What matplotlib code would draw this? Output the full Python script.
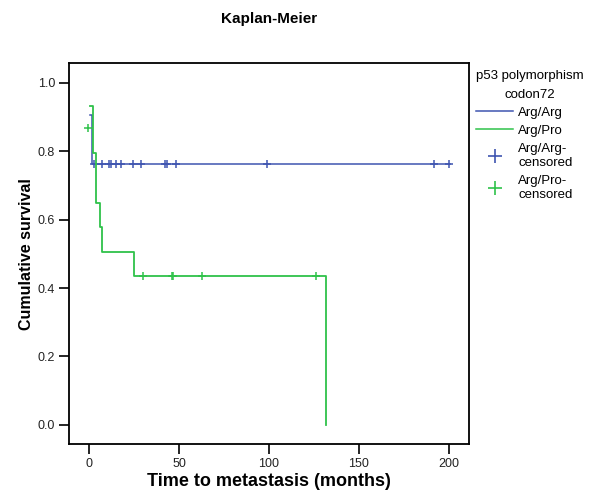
import matplotlib
matplotlib.use("Agg")
import matplotlib.pyplot as plt
from matplotlib.lines import Line2D

plt.rcParams['font.family'] = ['Liberation Sans', 'DejaVu Sans']

# Arg/Arg curve (time in months, cumulative survival)
argarg_t = [0.5, 1.9, 200.5]
argarg_s = [0.905, 0.762, 0.762]
argarg_cens_t = [2.9, 7.5, 11.3, 12.1, 15.0, 18.0, 24.3, 29.0, 42.2, 43.3, 48.3, 98.8, 191.7, 200.0]
argarg_cens_s = [0.762] * len(argarg_cens_t)

# Arg/Pro curve
argpro_t = [0.5, 2.2, 3.9, 6.1, 7.0, 25.1, 131.8]
argpro_s = [0.933, 0.795, 0.650, 0.578, 0.506, 0.434, 0.0]
argpro_cens_t = [-0.4, 29.8, 46.0, 46.8, 63.0, 126.0]
argpro_cens_s = [0.868, 0.434, 0.434, 0.434, 0.434, 0.434]

blue = '#3f55b0'
green = '#2fc24a'

fig = plt.figure(figsize=(5.95, 4.92), dpi=100)
ax = fig.add_axes([0.116, 0.0976, 0.672, 0.774])

ax.step(argarg_t, argarg_s, where='post', color=blue, lw=1.1, zorder=2)
ax.plot(argarg_cens_t, argarg_cens_s, ls='none', marker='+', ms=6, mew=1.1, color=blue, zorder=3)
ax.step(argpro_t, argpro_s, where='post', color=green, lw=1.3, zorder=4)
ax.plot(argpro_cens_t, argpro_cens_s, ls='none', marker='+', ms=6, mew=1.1, color=green, zorder=5)

ax.set_xlim(-11.1, 211.1)
ax.set_ylim(-0.056, 1.058)
ax.set_xticks([0, 50, 100, 150, 200])
ax.set_yticks([0.0, 0.2, 0.4, 0.6, 0.8, 1.0])
ax.set_yticklabels(['0.0', '0.2', '0.4', '0.6', '0.8', '1.0'])
ax.tick_params(direction='out', length=7, width=1.2, labelsize=9, pad=3, labelcolor='#222222')
for sp in ax.spines.values():
    sp.set_linewidth(1.3)

ax.set_xlabel('Time to metastasis (months)', fontsize=13, fontweight='bold', labelpad=2)
ax.set_ylabel('Cumulative survival', fontsize=11.5, fontweight='bold', labelpad=3)
fig.text(0.452, 0.961, 'Kaplan-Meier', ha='center', va='center', fontsize=11, fontweight='bold')

handles = [
    Line2D([], [], color=blue, lw=1.1),
    Line2D([], [], color=green, lw=1.1),
    Line2D([], [], color=blue, ls='none', marker='+', ms=10, mew=1.2),
    Line2D([], [], color=green, ls='none', marker='+', ms=10, mew=1.2),
]
labels = ['Arg/Arg', 'Arg/Pro', 'Arg/Arg-\ncensored', 'Arg/Pro-\ncensored']
leg = ax.legend(handles, labels, title='p53 polymorphism\ncodon72', loc='upper left',
                bbox_to_anchor=(1.0, 1.0), frameon=False, fontsize=9.5, title_fontsize=9.5,
                handlelength=2.8, handletextpad=0.4, borderaxespad=0.0, borderpad=0.55,
                labelspacing=0.45, alignment='left')
leg.get_title().set_multialignment('center')
leg.get_title().set_linespacing(1.7)

fig.savefig('out.png', dpi=100)
